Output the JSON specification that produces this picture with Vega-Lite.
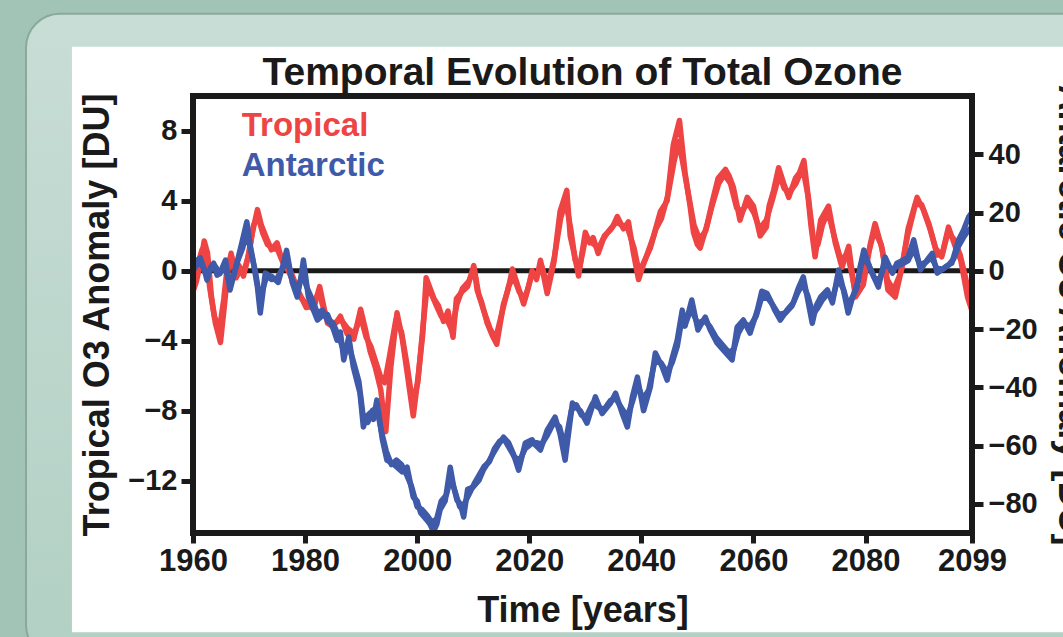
{
  "$schema": "https://vega.github.io/schema/vega-lite/v6.json",
  "width": 779,
  "height": 437,
  "autosize": {"type": "none"},
  "padding": {"left": 193, "top": 96, "right": 91, "bottom": 104},
  "background": "#a2c4b6",
  "config": {
    "font": "Liberation Sans",
    "view": {"stroke": null},
    "axis": {
      "grid": false,
      "domain": false,
      "ticks": true,
      "tickColor": "#1a1a1a",
      "tickWidth": 5,
      "labelColor": "#1a1a1a",
      "labelFont": "Liberation Sans",
      "labelFontWeight": "bold",
      "titleColor": "#1a1a1a",
      "titleFont": "Liberation Sans",
      "titleFontWeight": "bold",
      "titleFontSize": 36
    }
  },
  "title": {
    "text": "Temporal Evolution of Total Ozone",
    "font": "Liberation Sans",
    "fontSize": 39,
    "fontWeight": "bold",
    "color": "#1a1a1a",
    "anchor": "middle",
    "frame": "group",
    "offset": -80,
    "zindex": 1
  },
  "datasets": {
    "tropical": [
      {"year":1960.0,"run":"A","anomaly":-1.2},{"year":1960.6,"run":"A","anomaly":-0.6},{"year":1961.3,"run":"A","anomaly":0.4},{"year":1962.0,"run":"A","anomaly":1.7},{"year":1962.6,"run":"A","anomaly":1.0},{"year":1963.3,"run":"A","anomaly":-1.5},{"year":1964.0,"run":"A","anomaly":-3.0},{"year":1964.9,"run":"A","anomaly":-4.1},{"year":1965.6,"run":"A","anomaly":-2.0},{"year":1966.3,"run":"A","anomaly":0.2},{"year":1966.8,"run":"A","anomaly":1.0},{"year":1967.5,"run":"A","anomaly":-0.2},{"year":1968.2,"run":"A","anomaly":0.3},{"year":1969.0,"run":"A","anomaly":-0.3},{"year":1969.7,"run":"A","anomaly":0.6},{"year":1970.6,"run":"A","anomaly":2.2},{"year":1971.5,"run":"A","anomaly":3.5},{"year":1972.2,"run":"A","anomaly":2.6},{"year":1973.2,"run":"A","anomaly":1.8},{"year":1974.0,"run":"A","anomaly":1.2},{"year":1975.0,"run":"A","anomaly":1.6},{"year":1975.7,"run":"A","anomaly":0.8},{"year":1976.8,"run":"A","anomaly":0.4},{"year":1977.9,"run":"A","anomaly":-0.4},{"year":1979.1,"run":"A","anomaly":-1.5},{"year":1980.3,"run":"A","anomaly":-1.9},{"year":1981.5,"run":"A","anomaly":-2.2},{"year":1982.6,"run":"A","anomaly":-0.9},{"year":1983.3,"run":"A","anomaly":-2.0},{"year":1984.0,"run":"A","anomaly":-3.0},{"year":1985.0,"run":"A","anomaly":-3.2},{"year":1986.3,"run":"A","anomaly":-2.6},{"year":1987.5,"run":"A","anomaly":-3.6},{"year":1988.7,"run":"A","anomaly":-3.9},{"year":1989.9,"run":"A","anomaly":-2.2},{"year":1990.8,"run":"A","anomaly":-3.4},{"year":1991.6,"run":"A","anomaly":-4.6},{"year":1992.5,"run":"A","anomaly":-5.5},{"year":1993.5,"run":"A","anomaly":-6.8},{"year":1994.4,"run":"A","anomaly":-9.2},{"year":1995.3,"run":"A","anomaly":-5.5},{"year":1996.4,"run":"A","anomaly":-2.4},{"year":1997.3,"run":"A","anomaly":-3.8},{"year":1998.2,"run":"A","anomaly":-5.8},{"year":1999.3,"run":"A","anomaly":-8.3},{"year":2000.2,"run":"A","anomaly":-6.0},{"year":2001.0,"run":"A","anomaly":-3.6},{"year":2001.6,"run":"A","anomaly":-0.4},{"year":2002.3,"run":"A","anomaly":-1.0},{"year":2003.0,"run":"A","anomaly":-1.6},{"year":2003.8,"run":"A","anomaly":-2.0},{"year":2004.7,"run":"A","anomaly":-2.9},{"year":2005.5,"run":"A","anomaly":-2.3},{"year":2006.4,"run":"A","anomaly":-3.8},{"year":2007.0,"run":"A","anomaly":-1.6},{"year":2008.0,"run":"A","anomaly":-1.2},{"year":2009.0,"run":"A","anomaly":-0.9},{"year":2010.1,"run":"A","anomaly":0.3},{"year":2010.7,"run":"A","anomaly":-1.1},{"year":2011.5,"run":"A","anomaly":-1.8},{"year":2012.5,"run":"A","anomaly":-3.0},{"year":2013.4,"run":"A","anomaly":-3.7},{"year":2014.2,"run":"A","anomaly":-4.2},{"year":2015.4,"run":"A","anomaly":-1.9},{"year":2016.2,"run":"A","anomaly":-1.1},{"year":2017.0,"run":"A","anomaly":0.1},{"year":2018.0,"run":"A","anomaly":-0.9},{"year":2019.0,"run":"A","anomaly":-1.9},{"year":2019.8,"run":"A","anomaly":-1.0},{"year":2020.5,"run":"A","anomaly":0.0},{"year":2021.3,"run":"A","anomaly":-0.5},{"year":2022.0,"run":"A","anomaly":0.6},{"year":2023.2,"run":"A","anomaly":-1.3},{"year":2024.4,"run":"A","anomaly":0.5},{"year":2025.5,"run":"A","anomaly":3.4},{"year":2026.7,"run":"A","anomaly":4.6},{"year":2027.3,"run":"A","anomaly":2.0},{"year":2028.0,"run":"A","anomaly":1.0},{"year":2028.8,"run":"A","anomaly":-0.3},{"year":2029.4,"run":"A","anomaly":1.0},{"year":2030.0,"run":"A","anomaly":2.2},{"year":2030.8,"run":"A","anomaly":1.6},{"year":2031.4,"run":"A","anomaly":1.9},{"year":2032.3,"run":"A","anomaly":1.0},{"year":2033.2,"run":"A","anomaly":1.8},{"year":2034.0,"run":"A","anomaly":2.2},{"year":2035.0,"run":"A","anomaly":2.6},{"year":2035.7,"run":"A","anomaly":3.1},{"year":2036.8,"run":"A","anomaly":2.4},{"year":2037.7,"run":"A","anomaly":2.8},{"year":2038.6,"run":"A","anomaly":1.0},{"year":2039.5,"run":"A","anomaly":-0.5},{"year":2040.3,"run":"A","anomaly":0.3},{"year":2041.0,"run":"A","anomaly":0.9},{"year":2042.2,"run":"A","anomaly":2.0},{"year":2043.4,"run":"A","anomaly":3.4},{"year":2044.6,"run":"A","anomaly":4.0},{"year":2045.7,"run":"A","anomaly":7.2},{"year":2046.8,"run":"A","anomaly":8.6},{"year":2047.8,"run":"A","anomaly":5.6},{"year":2048.7,"run":"A","anomaly":3.7},{"year":2049.3,"run":"A","anomaly":2.2},{"year":2050.0,"run":"A","anomaly":1.5},{"year":2050.5,"run":"A","anomaly":1.3},{"year":2051.7,"run":"A","anomaly":2.6},{"year":2052.7,"run":"A","anomaly":4.0},{"year":2053.7,"run":"A","anomaly":5.3},{"year":2055.0,"run":"A","anomaly":5.8},{"year":2055.7,"run":"A","anomaly":5.4},{"year":2056.4,"run":"A","anomaly":4.8},{"year":2057.6,"run":"A","anomaly":2.9},{"year":2058.9,"run":"A","anomaly":4.2},{"year":2060.0,"run":"A","anomaly":3.7},{"year":2061.2,"run":"A","anomaly":2.0},{"year":2062.3,"run":"A","anomaly":2.5},{"year":2062.8,"run":"A","anomaly":3.7},{"year":2063.6,"run":"A","anomaly":4.6},{"year":2064.5,"run":"A","anomaly":5.9},{"year":2065.4,"run":"A","anomaly":5.0},{"year":2066.3,"run":"A","anomaly":4.2},{"year":2067.5,"run":"A","anomaly":5.3},{"year":2068.2,"run":"A","anomaly":5.6},{"year":2069.0,"run":"A","anomaly":6.3},{"year":2069.6,"run":"A","anomaly":4.7},{"year":2070.3,"run":"A","anomaly":2.5},{"year":2071.0,"run":"A","anomaly":0.8},{"year":2072.0,"run":"A","anomaly":2.9},{"year":2073.4,"run":"A","anomaly":3.7},{"year":2074.6,"run":"A","anomaly":1.6},{"year":2075.8,"run":"A","anomaly":0.2},{"year":2077.0,"run":"A","anomaly":1.4},{"year":2078.2,"run":"A","anomaly":-1.5},{"year":2079.6,"run":"A","anomaly":-0.8},{"year":2080.9,"run":"A","anomaly":1.6},{"year":2081.7,"run":"A","anomaly":2.7},{"year":2083.0,"run":"A","anomaly":1.2},{"year":2084.0,"run":"A","anomaly":-1.1},{"year":2085.3,"run":"A","anomaly":-1.5},{"year":2086.5,"run":"A","anomaly":0.2},{"year":2087.6,"run":"A","anomaly":2.4},{"year":2089.2,"run":"A","anomaly":4.2},{"year":2090.3,"run":"A","anomaly":3.5},{"year":2091.5,"run":"A","anomaly":2.4},{"year":2092.8,"run":"A","anomaly":0.9},{"year":2093.7,"run":"A","anomaly":1.0},{"year":2094.8,"run":"A","anomaly":2.5},{"year":2096.0,"run":"A","anomaly":1.4},{"year":2097.0,"run":"A","anomaly":0.6},{"year":2098.2,"run":"A","anomaly":-1.5},{"year":2099.0,"run":"A","anomaly":-2.3},
      {"year":1960.0,"run":"B","anomaly":-0.6},{"year":1960.8,"run":"B","anomaly":0.3},{"year":1961.6,"run":"B","anomaly":1.2},{"year":1962.3,"run":"B","anomaly":0.8},{"year":1963.0,"run":"B","anomaly":-1.0},{"year":1963.8,"run":"B","anomaly":-2.6},{"year":1964.7,"run":"B","anomaly":-3.4},{"year":1965.5,"run":"B","anomaly":-1.6},{"year":1966.2,"run":"B","anomaly":0.5},{"year":1966.9,"run":"B","anomaly":0.8},{"year":1967.7,"run":"B","anomaly":-0.4},{"year":1968.5,"run":"B","anomaly":0.1},{"year":1969.3,"run":"B","anomaly":0.2},{"year":1970.0,"run":"B","anomaly":1.0},{"year":1970.8,"run":"B","anomaly":2.6},{"year":1971.6,"run":"B","anomaly":3.1},{"year":1972.4,"run":"B","anomaly":2.2},{"year":1973.3,"run":"B","anomaly":1.5},{"year":1974.2,"run":"B","anomaly":1.3},{"year":1975.1,"run":"B","anomaly":1.2},{"year":1976.0,"run":"B","anomaly":0.5},{"year":1977.0,"run":"B","anomaly":0.0},{"year":1978.0,"run":"B","anomaly":-0.7},{"year":1979.0,"run":"B","anomaly":-1.3},{"year":1980.2,"run":"B","anomaly":-2.1},{"year":1981.3,"run":"B","anomaly":-2.0},{"year":1982.5,"run":"B","anomaly":-1.2},{"year":1983.4,"run":"B","anomaly":-2.3},{"year":1984.2,"run":"B","anomaly":-2.8},{"year":1985.2,"run":"B","anomaly":-3.0},{"year":1986.4,"run":"B","anomaly":-2.8},{"year":1987.6,"run":"B","anomaly":-3.3},{"year":1988.8,"run":"B","anomaly":-3.6},{"year":1989.9,"run":"B","anomaly":-2.6},{"year":1990.9,"run":"B","anomaly":-3.8},{"year":1991.7,"run":"B","anomaly":-4.3},{"year":1992.6,"run":"B","anomaly":-5.2},{"year":1993.4,"run":"B","anomaly":-6.0},{"year":1994.2,"run":"B","anomaly":-6.4},{"year":1995.0,"run":"B","anomaly":-5.0},{"year":1996.2,"run":"B","anomaly":-2.8},{"year":1997.2,"run":"B","anomaly":-3.5},{"year":1998.2,"run":"B","anomaly":-5.4},{"year":1999.2,"run":"B","anomaly":-7.6},{"year":2000.1,"run":"B","anomaly":-6.4},{"year":2001.0,"run":"B","anomaly":-3.3},{"year":2001.8,"run":"B","anomaly":-0.8},{"year":2002.5,"run":"B","anomaly":-1.3},{"year":2003.3,"run":"B","anomaly":-1.9},{"year":2004.3,"run":"B","anomaly":-2.6},{"year":2005.2,"run":"B","anomaly":-2.7},{"year":2006.2,"run":"B","anomaly":-3.4},{"year":2007.1,"run":"B","anomaly":-1.9},{"year":2008.1,"run":"B","anomaly":-1.0},{"year":2009.2,"run":"B","anomaly":-0.6},{"year":2010.2,"run":"B","anomaly":0.1},{"year":2011.0,"run":"B","anomaly":-1.4},{"year":2012.0,"run":"B","anomaly":-2.4},{"year":2013.0,"run":"B","anomaly":-3.3},{"year":2014.0,"run":"B","anomaly":-3.9},{"year":2015.2,"run":"B","anomaly":-2.3},{"year":2016.3,"run":"B","anomaly":-0.9},{"year":2017.2,"run":"B","anomaly":-0.3},{"year":2018.2,"run":"B","anomaly":-1.2},{"year":2019.2,"run":"B","anomaly":-1.6},{"year":2020.4,"run":"B","anomaly":-0.3},{"year":2021.5,"run":"B","anomaly":-0.2},{"year":2022.2,"run":"B","anomaly":0.3},{"year":2023.3,"run":"B","anomaly":-0.9},{"year":2024.5,"run":"B","anomaly":0.8},{"year":2025.6,"run":"B","anomaly":3.0},{"year":2026.5,"run":"B","anomaly":4.0},{"year":2027.4,"run":"B","anomaly":2.4},{"year":2028.2,"run":"B","anomaly":0.6},{"year":2029.0,"run":"B","anomaly":0.2},{"year":2030.0,"run":"B","anomaly":1.8},{"year":2031.2,"run":"B","anomaly":1.6},{"year":2032.4,"run":"B","anomaly":1.3},{"year":2033.4,"run":"B","anomaly":2.0},{"year":2034.4,"run":"B","anomaly":2.3},{"year":2035.5,"run":"B","anomaly":2.8},{"year":2036.6,"run":"B","anomaly":2.6},{"year":2037.6,"run":"B","anomaly":2.4},{"year":2038.7,"run":"B","anomaly":1.3},{"year":2039.6,"run":"B","anomaly":-0.1},{"year":2040.6,"run":"B","anomaly":0.6},{"year":2041.6,"run":"B","anomaly":1.3},{"year":2042.6,"run":"B","anomaly":2.4},{"year":2043.6,"run":"B","anomaly":3.0},{"year":2044.8,"run":"B","anomaly":4.4},{"year":2045.8,"run":"B","anomaly":6.2},{"year":2046.7,"run":"B","anomaly":7.4},{"year":2047.5,"run":"B","anomaly":6.0},{"year":2048.5,"run":"B","anomaly":4.2},{"year":2049.4,"run":"B","anomaly":2.6},{"year":2050.4,"run":"B","anomaly":1.8},{"year":2051.5,"run":"B","anomaly":2.3},{"year":2052.6,"run":"B","anomaly":3.7},{"year":2053.8,"run":"B","anomaly":5.0},{"year":2054.8,"run":"B","anomaly":5.5},{"year":2055.9,"run":"B","anomaly":5.0},{"year":2057.0,"run":"B","anomaly":3.6},{"year":2058.0,"run":"B","anomaly":3.4},{"year":2059.0,"run":"B","anomaly":3.9},{"year":2060.1,"run":"B","anomaly":3.3},{"year":2061.1,"run":"B","anomaly":2.4},{"year":2062.3,"run":"B","anomaly":2.9},{"year":2063.5,"run":"B","anomaly":4.2},{"year":2064.6,"run":"B","anomaly":5.5},{"year":2065.5,"run":"B","anomaly":4.7},{"year":2066.5,"run":"B","anomaly":4.5},{"year":2067.6,"run":"B","anomaly":5.0},{"year":2068.8,"run":"B","anomaly":5.9},{"year":2069.8,"run":"B","anomaly":4.2},{"year":2070.7,"run":"B","anomaly":1.8},{"year":2071.5,"run":"B","anomaly":1.5},{"year":2072.3,"run":"B","anomaly":2.6},{"year":2073.3,"run":"B","anomaly":3.4},{"year":2074.4,"run":"B","anomaly":2.0},{"year":2075.6,"run":"B","anomaly":0.6},{"year":2076.8,"run":"B","anomaly":1.0},{"year":2078.0,"run":"B","anomaly":-0.9},{"year":2079.3,"run":"B","anomaly":-0.4},{"year":2080.5,"run":"B","anomaly":1.0},{"year":2081.6,"run":"B","anomaly":2.3},{"year":2082.8,"run":"B","anomaly":1.5},{"year":2083.9,"run":"B","anomaly":-0.5},{"year":2085.0,"run":"B","anomaly":-1.1},{"year":2086.3,"run":"B","anomaly":-0.1},{"year":2087.5,"run":"B","anomaly":2.0},{"year":2088.9,"run":"B","anomaly":3.8},{"year":2090.0,"run":"B","anomaly":3.8},{"year":2091.3,"run":"B","anomaly":2.7},{"year":2092.5,"run":"B","anomaly":1.3},{"year":2093.6,"run":"B","anomaly":0.8},{"year":2094.7,"run":"B","anomaly":2.2},{"year":2095.8,"run":"B","anomaly":1.8},{"year":2096.9,"run":"B","anomaly":0.9},{"year":2098.0,"run":"B","anomaly":-0.6},{"year":2099.0,"run":"B","anomaly":-1.8}
    ],
    "antarctic": [
      {"year":1960.0,"run":"A","anomaly":1.3},{"year":1960.6,"run":"A","anomaly":3.5},{"year":1961.3,"run":"A","anomaly":4.4},{"year":1962.0,"run":"A","anomaly":0.5},{"year":1962.5,"run":"A","anomaly":-3.2},{"year":1963.1,"run":"A","anomaly":1.0},{"year":1963.7,"run":"A","anomaly":2.6},{"year":1964.3,"run":"A","anomaly":-1.5},{"year":1964.9,"run":"A","anomaly":-0.4},{"year":1965.8,"run":"A","anomaly":3.7},{"year":1966.6,"run":"A","anomaly":-6.6},{"year":1967.5,"run":"A","anomaly":0.0},{"year":1968.2,"run":"A","anomaly":5.5},{"year":1968.7,"run":"A","anomaly":9.5},{"year":1969.6,"run":"A","anomaly":16.8},{"year":1970.1,"run":"A","anomaly":10.0},{"year":1970.6,"run":"A","anomaly":4.7},{"year":1971.5,"run":"A","anomaly":-5.6},{"year":1972.0,"run":"A","anomaly":-14.5},{"year":1972.9,"run":"A","anomaly":-0.8},{"year":1973.5,"run":"A","anomaly":-1.5},{"year":1974.1,"run":"A","anomaly":-2.0},{"year":1975.2,"run":"A","anomaly":-4.0},{"year":1976.0,"run":"A","anomaly":1.5},{"year":1976.7,"run":"A","anomaly":7.0},{"year":1977.7,"run":"A","anomaly":-4.0},{"year":1978.6,"run":"A","anomaly":-9.0},{"year":1979.2,"run":"A","anomaly":-3.0},{"year":1979.7,"run":"A","anomaly":3.7},{"year":1980.6,"run":"A","anomaly":-9.0},{"year":1981.4,"run":"A","anomaly":-13.0},{"year":1982.2,"run":"A","anomaly":-16.9},{"year":1983.0,"run":"A","anomaly":-15.5},{"year":1984.0,"run":"A","anomaly":-15.0},{"year":1985.1,"run":"A","anomaly":-20.3},{"year":1985.7,"run":"A","anomaly":-23.8},{"year":1986.3,"run":"A","anomaly":-21.0},{"year":1986.9,"run":"A","anomaly":-30.6},{"year":1987.8,"run":"A","anomaly":-22.7},{"year":1988.6,"run":"A","anomaly":-33.0},{"year":1989.8,"run":"A","anomaly":-42.0},{"year":1990.4,"run":"A","anomaly":-53.6},{"year":1991.0,"run":"A","anomaly":-50.0},{"year":1991.6,"run":"A","anomaly":-48.8},{"year":1992.2,"run":"A","anomaly":-51.0},{"year":1992.8,"run":"A","anomaly":-44.4},{"year":1993.8,"run":"A","anomaly":-58.0},{"year":1994.6,"run":"A","anomaly":-65.0},{"year":1995.5,"run":"A","anomaly":-66.0},{"year":1996.4,"run":"A","anomaly":-67.4},{"year":1997.3,"run":"A","anomaly":-69.0},{"year":1998.2,"run":"A","anomaly":-67.4},{"year":1999.3,"run":"A","anomaly":-77.7},{"year":2000.0,"run":"A","anomaly":-79.0},{"year":2000.6,"run":"A","anomaly":-83.0},{"year":2001.7,"run":"A","anomaly":-85.5},{"year":2002.3,"run":"A","anomaly":-87.0},{"year":2002.9,"run":"A","anomaly":-89.5},{"year":2003.5,"run":"A","anomaly":-87.0},{"year":2004.1,"run":"A","anomaly":-82.0},{"year":2005.0,"run":"A","anomaly":-79.0},{"year":2005.9,"run":"A","anomaly":-67.4},{"year":2006.5,"run":"A","anomaly":-74.0},{"year":2007.1,"run":"A","anomaly":-78.7},{"year":2007.7,"run":"A","anomaly":-80.0},{"year":2008.3,"run":"A","anomaly":-84.5},{"year":2009.0,"run":"A","anomaly":-75.0},{"year":2010.0,"run":"A","anomaly":-74.2},{"year":2011.0,"run":"A","anomaly":-72.0},{"year":2011.8,"run":"A","anomaly":-68.4},{"year":2012.6,"run":"A","anomaly":-66.0},{"year":2013.6,"run":"A","anomaly":-62.6},{"year":2014.4,"run":"A","anomaly":-60.0},{"year":2015.4,"run":"A","anomaly":-57.1},{"year":2016.3,"run":"A","anomaly":-59.0},{"year":2017.2,"run":"A","anomaly":-63.0},{"year":2018.1,"run":"A","anomaly":-68.4},{"year":2019.3,"run":"A","anomaly":-59.1},{"year":2020.5,"run":"A","anomaly":-58.0},{"year":2021.2,"run":"A","anomaly":-60.0},{"year":2022.0,"run":"A","anomaly":-61.5},{"year":2023.2,"run":"A","anomaly":-54.7},{"year":2024.6,"run":"A","anomaly":-50.2},{"year":2025.5,"run":"A","anomaly":-56.0},{"year":2026.4,"run":"A","anomaly":-65.0},{"year":2027.7,"run":"A","anomaly":-45.4},{"year":2028.4,"run":"A","anomaly":-47.0},{"year":2029.1,"run":"A","anomaly":-48.0},{"year":2030.3,"run":"A","anomaly":-52.3},{"year":2031.8,"run":"A","anomaly":-43.3},{"year":2033.0,"run":"A","anomaly":-49.0},{"year":2034.5,"run":"A","anomaly":-45.4},{"year":2035.4,"run":"A","anomaly":-42.0},{"year":2036.6,"run":"A","anomaly":-49.0},{"year":2037.5,"run":"A","anomaly":-53.6},{"year":2038.4,"run":"A","anomaly":-43.3},{"year":2039.3,"run":"A","anomaly":-36.5},{"year":2040.4,"run":"A","anomaly":-48.0},{"year":2041.6,"run":"A","anomaly":-39.9},{"year":2042.5,"run":"A","anomaly":-28.2},{"year":2043.7,"run":"A","anomaly":-32.9},{"year":2044.6,"run":"A","anomaly":-37.5},{"year":2045.5,"run":"A","anomaly":-30.0},{"year":2046.4,"run":"A","anomaly":-23.8},{"year":2047.3,"run":"A","anomaly":-13.5},{"year":2047.8,"run":"A","anomaly":-19.0},{"year":2049.0,"run":"A","anomaly":-10.0},{"year":2050.1,"run":"A","anomaly":-20.3},{"year":2051.4,"run":"A","anomaly":-15.9},{"year":2052.3,"run":"A","anomaly":-20.3},{"year":2053.5,"run":"A","anomaly":-24.8},{"year":2054.6,"run":"A","anomaly":-27.2},{"year":2056.2,"run":"A","anomaly":-30.6},{"year":2057.1,"run":"A","anomaly":-19.3},{"year":2058.2,"run":"A","anomaly":-16.9},{"year":2059.4,"run":"A","anomaly":-21.4},{"year":2060.7,"run":"A","anomaly":-13.5},{"year":2061.5,"run":"A","anomaly":-7.0},{"year":2062.4,"run":"A","anomaly":-7.7},{"year":2063.0,"run":"A","anomaly":-10.0},{"year":2063.8,"run":"A","anomaly":-13.5},{"year":2064.8,"run":"A","anomaly":-16.9},{"year":2066.0,"run":"A","anomaly":-13.5},{"year":2067.1,"run":"A","anomaly":-11.0},{"year":2068.0,"run":"A","anomaly":-6.0},{"year":2068.9,"run":"A","anomaly":-2.1},{"year":2069.7,"run":"A","anomaly":-10.0},{"year":2070.5,"run":"A","anomaly":-18.0},{"year":2071.2,"run":"A","anomaly":-12.0},{"year":2072.0,"run":"A","anomaly":-9.0},{"year":2073.2,"run":"A","anomaly":-6.6},{"year":2074.1,"run":"A","anomaly":-11.0},{"year":2075.2,"run":"A","anomaly":0.3},{"year":2076.0,"run":"A","anomaly":-6.0},{"year":2076.9,"run":"A","anomaly":-14.5},{"year":2077.7,"run":"A","anomaly":-9.0},{"year":2078.5,"run":"A","anomaly":-5.6},{"year":2079.0,"run":"A","anomaly":1.0},{"year":2079.7,"run":"A","anomaly":7.1},{"year":2080.9,"run":"A","anomaly":0.3},{"year":2082.3,"run":"A","anomaly":-5.6},{"year":2083.5,"run":"A","anomaly":4.7},{"year":2084.8,"run":"A","anomaly":-0.8},{"year":2085.6,"run":"A","anomaly":2.6},{"year":2086.8,"run":"A","anomaly":3.7},{"year":2087.6,"run":"A","anomaly":4.7},{"year":2088.6,"run":"A","anomaly":10.6},{"year":2089.8,"run":"A","anomaly":0.3},{"year":2091.0,"run":"A","anomaly":3.7},{"year":2091.9,"run":"A","anomaly":6.0},{"year":2092.8,"run":"A","anomaly":-0.8},{"year":2094.3,"run":"A","anomaly":1.4},{"year":2095.4,"run":"A","anomaly":2.6},{"year":2096.6,"run":"A","anomaly":10.6},{"year":2097.5,"run":"A","anomaly":14.0},{"year":2098.4,"run":"A","anomaly":18.5},{"year":2099.0,"run":"A","anomaly":20.0},
      {"year":1960.0,"run":"B","anomaly":0.0},{"year":1960.8,"run":"B","anomaly":2.5},{"year":1961.6,"run":"B","anomaly":2.0},{"year":1962.4,"run":"B","anomaly":-1.5},{"year":1963.2,"run":"B","anomaly":0.5},{"year":1964.0,"run":"B","anomaly":1.5},{"year":1964.8,"run":"B","anomaly":-1.0},{"year":1965.6,"run":"B","anomaly":2.0},{"year":1966.4,"run":"B","anomaly":-3.5},{"year":1967.3,"run":"B","anomaly":-1.0},{"year":1968.0,"run":"B","anomaly":3.5},{"year":1968.9,"run":"B","anomaly":8.0},{"year":1969.5,"run":"B","anomaly":13.5},{"year":1970.3,"run":"B","anomaly":7.0},{"year":1971.1,"run":"B","anomaly":0.0},{"year":1971.8,"run":"B","anomaly":-8.0},{"year":1972.5,"run":"B","anomaly":-6.0},{"year":1973.2,"run":"B","anomaly":-1.5},{"year":1974.0,"run":"B","anomaly":-3.0},{"year":1975.0,"run":"B","anomaly":-2.5},{"year":1975.9,"run":"B","anomaly":0.5},{"year":1976.8,"run":"B","anomaly":4.0},{"year":1977.6,"run":"B","anomaly":-2.5},{"year":1978.5,"run":"B","anomaly":-6.5},{"year":1979.5,"run":"B","anomaly":-1.5},{"year":1980.4,"run":"B","anomaly":-6.0},{"year":1981.3,"run":"B","anomaly":-10.0},{"year":1982.2,"run":"B","anomaly":-14.5},{"year":1983.1,"run":"B","anomaly":-13.5},{"year":1984.1,"run":"B","anomaly":-17.5},{"year":1985.0,"run":"B","anomaly":-18.0},{"year":1985.9,"run":"B","anomaly":-22.0},{"year":1986.8,"run":"B","anomaly":-27.0},{"year":1987.7,"run":"B","anomaly":-25.0},{"year":1988.6,"run":"B","anomaly":-31.0},{"year":1989.6,"run":"B","anomaly":-38.0},{"year":1990.3,"run":"B","anomaly":-49.0},{"year":1991.2,"run":"B","anomaly":-52.0},{"year":1992.0,"run":"B","anomaly":-48.0},{"year":1992.8,"run":"B","anomaly":-47.0},{"year":1993.6,"run":"B","anomaly":-55.0},{"year":1994.5,"run":"B","anomaly":-62.0},{"year":1995.4,"run":"B","anomaly":-66.5},{"year":1996.3,"run":"B","anomaly":-65.0},{"year":1997.2,"run":"B","anomaly":-66.5},{"year":1998.1,"run":"B","anomaly":-70.0},{"year":1999.0,"run":"B","anomaly":-74.0},{"year":2000.0,"run":"B","anomaly":-81.0},{"year":2000.9,"run":"B","anomaly":-82.0},{"year":2001.8,"run":"B","anomaly":-84.0},{"year":2002.7,"run":"B","anomaly":-86.5},{"year":2003.5,"run":"B","anomaly":-85.0},{"year":2004.3,"run":"B","anomaly":-79.0},{"year":2005.2,"run":"B","anomaly":-77.0},{"year":2006.0,"run":"B","anomaly":-71.0},{"year":2006.8,"run":"B","anomaly":-76.0},{"year":2007.6,"run":"B","anomaly":-81.0},{"year":2008.4,"run":"B","anomaly":-80.0},{"year":2009.3,"run":"B","anomaly":-76.5},{"year":2010.2,"run":"B","anomaly":-73.0},{"year":2011.1,"run":"B","anomaly":-70.0},{"year":2012.0,"run":"B","anomaly":-67.0},{"year":2012.9,"run":"B","anomaly":-65.5},{"year":2013.8,"run":"B","anomaly":-61.0},{"year":2014.7,"run":"B","anomaly":-58.5},{"year":2015.6,"run":"B","anomaly":-58.0},{"year":2016.5,"run":"B","anomaly":-61.0},{"year":2017.4,"run":"B","anomaly":-64.0},{"year":2018.3,"run":"B","anomaly":-65.0},{"year":2019.3,"run":"B","anomaly":-61.0},{"year":2020.3,"run":"B","anomaly":-59.5},{"year":2021.3,"run":"B","anomaly":-59.0},{"year":2022.2,"run":"B","anomaly":-59.5},{"year":2023.2,"run":"B","anomaly":-56.5},{"year":2024.4,"run":"B","anomaly":-52.0},{"year":2025.4,"run":"B","anomaly":-53.5},{"year":2026.3,"run":"B","anomaly":-60.5},{"year":2027.5,"run":"B","anomaly":-48.0},{"year":2028.4,"run":"B","anomaly":-46.0},{"year":2029.3,"run":"B","anomaly":-49.5},{"year":2030.2,"run":"B","anomaly":-50.0},{"year":2031.3,"run":"B","anomaly":-45.5},{"year":2032.4,"run":"B","anomaly":-47.0},{"year":2033.4,"run":"B","anomaly":-47.5},{"year":2034.5,"run":"B","anomaly":-44.5},{"year":2035.5,"run":"B","anomaly":-44.0},{"year":2036.6,"run":"B","anomaly":-47.5},{"year":2037.5,"run":"B","anomaly":-50.0},{"year":2038.4,"run":"B","anomaly":-45.0},{"year":2039.3,"run":"B","anomaly":-39.0},{"year":2040.3,"run":"B","anomaly":-44.0},{"year":2041.3,"run":"B","anomaly":-41.0},{"year":2042.4,"run":"B","anomaly":-31.0},{"year":2043.5,"run":"B","anomaly":-31.5},{"year":2044.6,"run":"B","anomaly":-35.0},{"year":2045.5,"run":"B","anomaly":-31.5},{"year":2046.4,"run":"B","anomaly":-26.0},{"year":2047.2,"run":"B","anomaly":-17.0},{"year":2048.0,"run":"B","anomaly":-17.5},{"year":2048.9,"run":"B","anomaly":-13.0},{"year":2050.0,"run":"B","anomaly":-18.0},{"year":2051.2,"run":"B","anomaly":-17.0},{"year":2052.2,"run":"B","anomaly":-19.0},{"year":2053.4,"run":"B","anomaly":-23.0},{"year":2054.5,"run":"B","anomaly":-25.5},{"year":2055.6,"run":"B","anomaly":-28.0},{"year":2056.5,"run":"B","anomaly":-27.0},{"year":2057.3,"run":"B","anomaly":-21.5},{"year":2058.3,"run":"B","anomaly":-18.0},{"year":2059.4,"run":"B","anomaly":-19.0},{"year":2060.5,"run":"B","anomaly":-15.5},{"year":2061.4,"run":"B","anomaly":-9.5},{"year":2062.4,"run":"B","anomaly":-9.0},{"year":2063.4,"run":"B","anomaly":-11.5},{"year":2064.5,"run":"B","anomaly":-15.0},{"year":2065.7,"run":"B","anomaly":-14.5},{"year":2066.9,"run":"B","anomaly":-12.0},{"year":2067.9,"run":"B","anomaly":-7.5},{"year":2068.8,"run":"B","anomaly":-4.5},{"year":2069.7,"run":"B","anomaly":-8.5},{"year":2070.6,"run":"B","anomaly":-15.0},{"year":2071.4,"run":"B","anomaly":-13.0},{"year":2072.3,"run":"B","anomaly":-10.0},{"year":2073.2,"run":"B","anomaly":-8.0},{"year":2074.2,"run":"B","anomaly":-9.0},{"year":2075.1,"run":"B","anomaly":-2.5},{"year":2076.1,"run":"B","anomaly":-6.5},{"year":2076.9,"run":"B","anomaly":-12.0},{"year":2077.8,"run":"B","anomaly":-8.5},{"year":2078.6,"run":"B","anomaly":-4.0},{"year":2079.5,"run":"B","anomaly":4.5},{"year":2080.6,"run":"B","anomaly":2.0},{"year":2081.6,"run":"B","anomaly":-2.5},{"year":2082.5,"run":"B","anomaly":-3.0},{"year":2083.5,"run":"B","anomaly":2.5},{"year":2084.6,"run":"B","anomaly":0.5},{"year":2085.6,"run":"B","anomaly":1.5},{"year":2086.7,"run":"B","anomaly":2.5},{"year":2087.6,"run":"B","anomaly":3.5},{"year":2088.6,"run":"B","anomaly":7.5},{"year":2089.7,"run":"B","anomaly":2.0},{"year":2090.8,"run":"B","anomaly":3.0},{"year":2091.8,"run":"B","anomaly":4.5},{"year":2092.7,"run":"B","anomaly":1.0},{"year":2093.8,"run":"B","anomaly":0.5},{"year":2094.8,"run":"B","anomaly":2.0},{"year":2095.7,"run":"B","anomaly":4.0},{"year":2096.6,"run":"B","anomaly":8.5},{"year":2097.5,"run":"B","anomaly":11.5},{"year":2098.4,"run":"B","anomaly":14.0},{"year":2099.0,"run":"B","anomaly":15.0}
    ]
  },
  "layer": [
    {
      "layer": [
        {
          "data": {"values": [{}]},
          "mark": {
            "type": "rect",
            "cornerRadius": 34,
            "stroke": "#8aa99c",
            "strokeWidth": 2,
            "fill": {
              "gradient": "linear", "x1": 0, "y1": 0, "x2": 0, "y2": 1,
              "stops": [{"offset": 0, "color": "#c8ddd6"}, {"offset": 1, "color": "#b2d0c4"}]
            }
          },
          "encoding": {
            "x": {"datum": 1930.2, "type": "quantitative", "scale": {"domain": [1960, 2099], "nice": false, "zero": false}, "axis": null},
            "x2": {"datum": 2121.8},
            "y": {"datum": 14.7, "type": "quantitative", "scale": {"domain": [-15, 10], "nice": false, "zero": false}, "axis": null},
            "y2": {"datum": -22.2}
          }
        },
        {
          "data": {"values": [{}]},
          "mark": {"type": "rect", "fill": "#ffffff"},
          "encoding": {
            "x": {"datum": 1938.4, "type": "quantitative", "scale": {"domain": [1960, 2099], "nice": false, "zero": false}, "axis": null},
            "x2": {"datum": 2121.8},
            "y": {"datum": 12.82, "type": "quantitative", "scale": {"domain": [-15, 10], "nice": false, "zero": false}, "axis": null},
            "y2": {"datum": -20.68}
          }
        },
        {
          "data": {"values": [{}]},
          "mark": {"type": "rule", "color": "#1a1a1a", "strokeWidth": 5},
          "encoding": {
            "y": {"datum": 0, "type": "quantitative", "scale": {"domain": [-15, 10], "nice": false, "zero": false}, "axis": null}
          }
        },
        {
          "data": {"name": "tropical"},
          "mark": {"type": "line", "color": "#ee4444", "strokeWidth": 5.5, "strokeJoin": "round", "strokeCap": "round", "clip": true},
          "encoding": {
            "x": {
              "field": "year", "type": "quantitative",
              "scale": {"domain": [1960, 2099], "nice": false, "zero": false},
              "axis": {
                "orient": "bottom",
                "zindex": 2,
                "values": [1960, 1980, 2000, 2020, 2040, 2060, 2080, 2099],
                "format": "d",
                "tickSize": 10,
                "labelFontSize": 31,
                "labelPadding": 3,
                "labelFlush": false,
                "labelOverlap": false,
                "title": "Time [years]",
                "titlePadding": 17
              }
            },
            "y": {
              "field": "anomaly", "type": "quantitative",
              "scale": {"domain": [-15, 10], "nice": false, "zero": false},
              "axis": {
                "orient": "left",
                "zindex": 2,
                "values": [-12, -8, -4, 0, 4, 8],
                "format": "d",
                "tickSize": 12,
                "labelFontSize": 29,
                "labelPadding": 4,
                "title": "Tropical O3 Anomaly [DU]",
                "titlePadding": 11
              }
            },
            "detail": {"field": "run", "type": "nominal"}
          }
        },
        {
          "data": {"values": [{}]},
          "mark": {"type": "text", "text": "Tropical", "color": "#ee4444", "fontSize": 33, "fontWeight": "bold", "align": "left", "baseline": "alphabetic"},
          "encoding": {
            "x": {"datum": 1968.7, "type": "quantitative", "scale": {"domain": [1960, 2099], "nice": false, "zero": false}, "axis": null},
            "y": {"datum": 7.69, "type": "quantitative", "scale": {"domain": [-15, 10], "nice": false, "zero": false}, "axis": null}
          }
        },
        {
          "data": {"values": [{}]},
          "mark": {"type": "text", "text": "Antarctic", "color": "#3f5aa8", "fontSize": 33, "fontWeight": "bold", "align": "left", "baseline": "alphabetic"},
          "encoding": {
            "x": {"datum": 1968.7, "type": "quantitative", "scale": {"domain": [1960, 2099], "nice": false, "zero": false}, "axis": null},
            "y": {"datum": 5.44, "type": "quantitative", "scale": {"domain": [-15, 10], "nice": false, "zero": false}, "axis": null}
          }
        }
      ],
      "resolve": {"axis": {"x": "independent", "y": "independent"}}
    },
    {
      "data": {"name": "antarctic"},
      "mark": {"type": "line", "color": "#3f5aa8", "strokeWidth": 5.5, "strokeJoin": "round", "strokeCap": "round", "clip": true},
      "encoding": {
        "x": {"field": "year", "type": "quantitative", "scale": {"domain": [1960, 2099], "nice": false, "zero": false}, "axis": null},
        "y": {
          "field": "anomaly", "type": "quantitative",
          "scale": {"domain": [-90, 60], "nice": false, "zero": false},
          "axis": {
            "orient": "right",
            "zindex": 2,
            "values": [-80, -60, -40, -20, 0, 20, 40],
            "format": "d",
            "tickSize": 11,
            "labelFontSize": 29,
            "labelPadding": 5,
            "title": "Antarctic O3 Anomaly [DU]",
            "titlePadding": 13
          }
        },
        "detail": {"field": "run", "type": "nominal"}
      }
    },
    {
      "data": {"values": [{}]},
      "mark": {"type": "rect", "fill": null, "fillOpacity": 0, "stroke": "#1a1a1a", "strokeWidth": 6, "strokeJoin": "miter"},
      "encoding": {
        "x": {"datum": 1960, "type": "quantitative", "scale": {"domain": [1960, 2099], "nice": false, "zero": false}, "axis": null},
        "x2": {"datum": 2099},
        "y": {"datum": -15, "type": "quantitative", "scale": {"domain": [-15, 10], "nice": false, "zero": false}, "axis": null},
        "y2": {"datum": 10}
      }
    }
  ],
  "resolve": {"scale": {"y": "independent"}, "axis": {"x": "independent"}}
}
